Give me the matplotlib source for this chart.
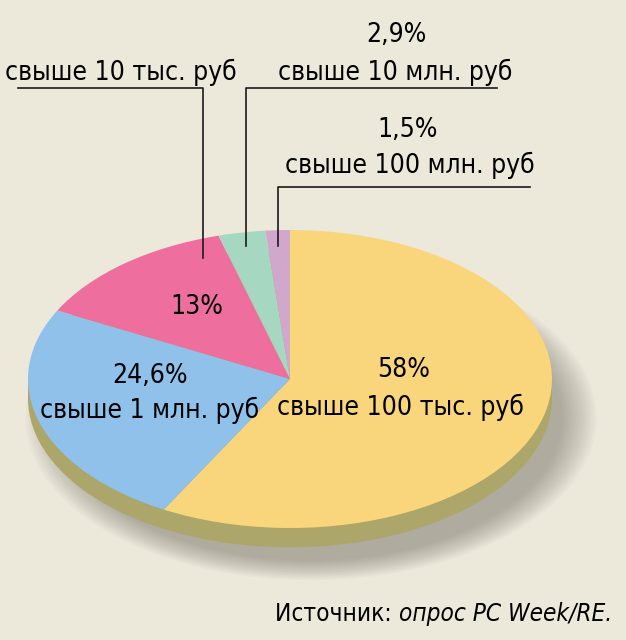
import matplotlib
matplotlib.use('Agg')
import matplotlib.pyplot as plt
from matplotlib.patches import Ellipse, Rectangle

plt.rcParams['font.family'] = ['DejaVu Sans']
plt.rcParams['font.stretch'] = 'condensed'

# data
shares = [58, 24.6, 13, 2.9, 1.5]
pct_labels = ['58%', '24,6%', '13%', '2,9%', '1,5%']
names = ['свыше 100 тыс. руб', 'свыше 1 млн. руб', 'свыше 10 тыс. руб',
         'свыше 10 млн. руб', 'свыше 100 млн. руб']
colors = ['#f9d67b', '#8fc1ea', '#ee6f9e', '#a6d8c1', '#d1a7cb']

bg = '#ece9db'
olive = '#ada66a'

# pixel -> data helpers (pie centre at 290,379, radii 262 x 149 px)
CX, CY, RX, RY = 290, 379, 262, 149
def px(x):
    return (x - CX) / RX
def py(y):
    return (CY - y) / RY

fig = plt.figure(figsize=(6.26, 6.40), dpi=100)
fig.patch.set_facecolor(bg)
ax = fig.add_axes([0, 0, 1, 1])
ax.set_facecolor(bg)

# soft shadow
for i in range(14):
    s = 0.96 + i * 0.01
    ax.add_patch(Ellipse((0.08, -0.26), 2 * s, 2 * s, color='#5f5b50',
                         alpha=0.035, lw=0, zorder=0))

# side of the disc
d = 0.13
ax.add_patch(Ellipse((0, -d), 2, 2, color=olive, lw=0, zorder=1))
ax.add_patch(Rectangle((-1, -d), 2, d, color=olive, lw=0, zorder=1))

wedges, _ = ax.pie(shares, colors=colors, startangle=90, counterclock=False,
                   radius=1, wedgeprops=dict(linewidth=0))
for w in wedges:
    w.set_zorder(2)

ax.set_aspect('auto')
ax.set_xlim(px(0), px(626))
ax.set_ylim(py(640), py(0))
ax.axis('off')

fs = 19
# labels inside slices
ax.text(px(404), py(370), pct_labels[0], ha='center', va='center', fontsize=fs)
ax.text(px(400), py(407), names[0], ha='center', va='center', fontsize=fs)
ax.text(px(150), py(376), pct_labels[1], ha='center', va='center', fontsize=fs)
ax.text(px(150), py(410), names[1], ha='center', va='center', fontsize=fs)
ax.text(px(197), py(307), pct_labels[2], ha='center', va='center', fontsize=fs)

# outside labels
ax.text(px(121), py(72), names[2], ha='center', va='center', fontsize=fs)
ax.text(px(396), py(35), pct_labels[3], ha='center', va='center', fontsize=fs)
ax.text(px(395), py(72), names[3], ha='center', va='center', fontsize=fs)
ax.text(px(408), py(130), pct_labels[4], ha='center', va='center', fontsize=fs)
ax.text(px(410), py(165), names[4], ha='center', va='center', fontsize=fs)

# leader lines
lc = '#1a1a1a'
ax.plot([px(18), px(203), px(203)], [py(88), py(88), py(258)], color=lc, lw=1.2, zorder=3)
ax.plot([px(497), px(246), px(246)], [py(88), py(88), py(246)], color=lc, lw=1.2, zorder=3)
ax.plot([px(530), px(278), px(278)], [py(187), py(187), py(246)], color=lc, lw=1.2, zorder=3)

# source
ax.text(px(612), py(614), 'Источник: ', ha='right', va='center', fontsize=17.5)
src = ax.text(px(612), py(614), 'опрос PC Week/RE.', ha='right', va='center',
              fontsize=17.5, style='italic')
fig.canvas.draw()
bb = src.get_window_extent()
inv = ax.transData.inverted()
x0 = inv.transform((bb.x0, bb.y0))[0]
ax.texts[-2].set_position((x0, py(614)))

fig.savefig('out.png', dpi=100, facecolor=bg)
